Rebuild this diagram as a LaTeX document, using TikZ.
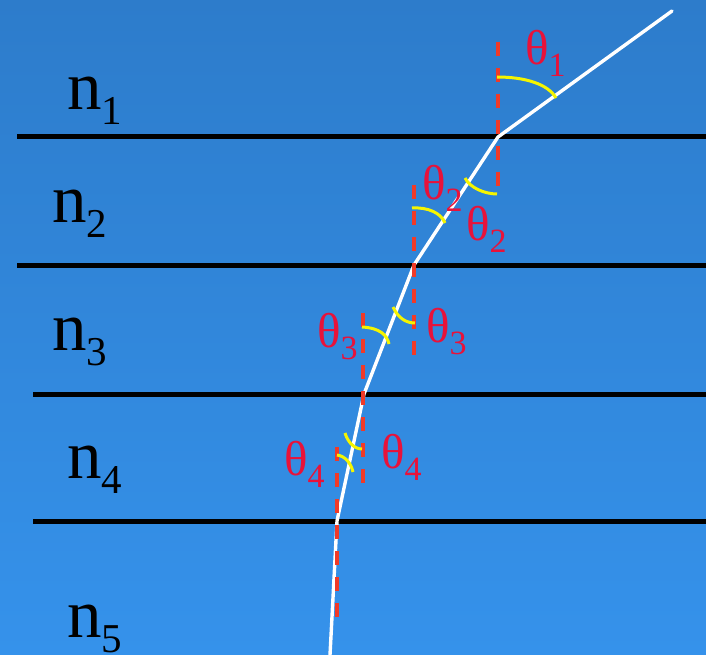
\documentclass[tikz,border=0pt]{standalone}
\usepackage{fontspec}
\setmainfont{Liberation Serif}
\definecolor{bgtop}{RGB}{45,124,203}
\definecolor{bgbot}{RGB}{53,146,235}
\definecolor{normred}{RGB}{240,58,40}
\definecolor{thred}{RGB}{232,18,58}
\definecolor{arcyel}{RGB}{245,245,0}
\newcommand{\thlab}[1]{{\fontsize{49}{49}\selectfont θ}\raisebox{-12pt}{\fontsize{34}{34}\selectfont #1}}
\newcommand{\nlab}[1]{{\fontsize{69}{69}\selectfont n}\raisebox{-15pt}{\fontsize{41}{41}\selectfont #1}}
\begin{document}
\begin{tikzpicture}[x=1pt,y=-1pt,
  interface/.style={line width=5pt,black},
  ray/.style={white,line width=3.4pt,line cap=round,line join=round},
  normal/.style={normred,line width=4pt,dash pattern=on 14pt off 12pt},
  anglearc/.style={arcyel,line width=3pt},
  thetalabel/.style={thred,anchor=base west,inner sep=0pt},
  nlabel/.style={black,anchor=base west,inner sep=0pt}]
\useasboundingbox (0,0) rectangle (706,655);
\shade[top color=bgtop,bottom color=bgbot] (0,0) rectangle (706,655);

% interfaces
\coordinate (L1a) at (17,137); \coordinate (L1b) at (706,137);
\coordinate (L2a) at (17,265); \coordinate (L2b) at (706,265);
\coordinate (L3a) at (33,394); \coordinate (L3b) at (706,394);
\coordinate (L4a) at (33,521); \coordinate (L4b) at (706,521);
\draw[interface] (L1a) -- (L1b);
\draw[interface] (L2a) -- (L2b);
\draw[interface] (L3a) -- (L3b);
\draw[interface] (L4a) -- (L4b);

% ray
\coordinate (P0) at (672,11);
\coordinate (V1) at (498,137);
\coordinate (V2) at (414,265);
\coordinate (V3) at (364,394);
\coordinate (V4) at (337,521);
\coordinate (P5) at (330,655);
\draw[ray] (P0) -- (V1) -- (V2) -- (V3) -- (V4) -- (P5);

% normals
\coordinate (N1a) at (498,42);  \coordinate (N1b) at (498,195);
\coordinate (N2a) at (414,185); \coordinate (N2b) at (414,360);
\coordinate (N3a) at (363,313); \coordinate (N3b) at (363,488);
\coordinate (N4a) at (337,447); \coordinate (N4b) at (337,622);
\draw[normal] (N1a) -- (N1b);
\draw[normal] (N2a) -- (N2b);
\draw[normal] (N3a) -- (N3b);
\draw[normal] (N4a) -- (N4b);

% angle arcs
\draw[anglearc] (497,77) .. controls (525,77) and (548,84) .. (556,98);
\draw[anglearc] (465,178) .. controls (470,188) and (485,194) .. (497,194);
\draw[anglearc] (412,208) .. controls (428,207) and (441,213) .. (445,223);
\draw[anglearc] (393,307) .. controls (398,318) and (406,323) .. (415,323);
\draw[anglearc] (362,327) .. controls (380,328) and (387,335) .. (389,344);
\draw[anglearc] (345,433) .. controls (348,443) and (355,449) .. (362,449);
\draw[anglearc] (337,455) .. controls (345,456) and (351,463) .. (353,472);

% theta labels
\node[thetalabel] (t1)  at (525,65)  {\thlab{1}};
\node[thetalabel] (t2a) at (422,200) {\thlab{2}};
\node[thetalabel] (t2b) at (466,240) {\thlab{2}};
\node[thetalabel] (t3a) at (317,347) {\thlab{3}};
\node[thetalabel] (t3b) at (426,342) {\thlab{3}};
\node[thetalabel] (t4a) at (284,475) {\thlab{4}};
\node[thetalabel] (t4b) at (381,468) {\thlab{4}};

% n labels
\node[nlabel] (n1) at (67,110) {\nlab{1}};
\node[nlabel] (n2) at (52,222) {\nlab{2}};
\node[nlabel] (n3) at (52,350) {\nlab{3}};
\node[nlabel] (n4) at (67,478) {\nlab{4}};
\node[nlabel] (n5) at (67,637) {\nlab{5}};
\end{tikzpicture}
\end{document}
